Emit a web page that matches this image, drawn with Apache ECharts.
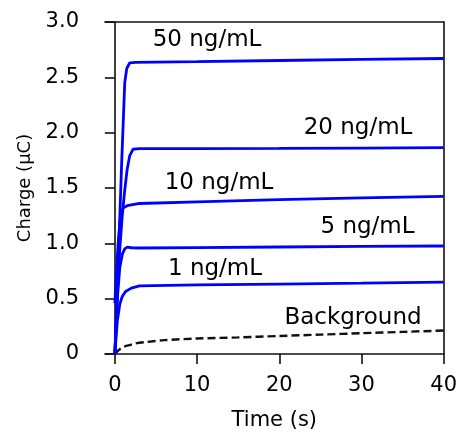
<!DOCTYPE html>
<html>
<head>
<meta charset="utf-8">
<script src="https://cdn.jsdelivr.net/npm/echarts@6/dist/echarts.min.js"></script>
<style>
html,body{margin:0;padding:0;background:#fff;}
#chart{width:460px;height:436px;}
</style>
</head>
<body>
<div id="chart"></div>
<script>
// ---- data (time s, charge µC) ----
var seriesNames = ['50 ng/mL', '20 ng/mL', '10 ng/mL', '5 ng/mL', '1 ng/mL', 'Background'];
var charge50 = [[0,0],[0.4,0.8],[0.8,1.67],[1.2,2.45],[1.45,2.58],[1.8,2.63],[2.5,2.635],[10,2.642],[20,2.652],[30,2.662],[40,2.67]];
var charge20 = [[0,0],[0.3,0.55],[0.6,0.95],[0.9,1.25],[1.2,1.48],[1.5,1.67],[1.8,1.79],[2.2,1.85],[3,1.855],[10,1.856],[20,1.858],[30,1.861],[40,1.865]];
var charge10 = [[0,0.46],[0.2,0.75],[0.4,1.0],[0.6,1.18],[0.8,1.28],[1.0,1.32],[1.5,1.34],[3,1.36],[10,1.375],[20,1.395],[30,1.41],[40,1.425]];
var charge5 = [[0,0],[0.3,0.5],[0.6,0.78],[0.9,0.9],[1.2,0.95],[1.5,0.965],[2,0.96],[3,0.958],[10,0.962],[20,0.967],[30,0.972],[40,0.976]];
var charge1 = [[0,0],[0.3,0.3],[0.6,0.45],[0.9,0.52],[1.3,0.565],[2,0.595],[3,0.615],[10,0.625],[20,0.632],[30,0.64],[40,0.65]];
var chargeBg = [[0,0],[0.4,0.03],[0.8,0.055],[1.5,0.075],[2.5,0.095],[4,0.11],[6,0.125],[10,0.14],[15,0.15],[20,0.163],[25,0.175],[30,0.188],[35,0.2],[40,0.212]];
var xTicks = [0, 10, 20, 30, 40];
var yTicks = [0, 0.5, 1.0, 1.5, 2.0, 2.5, 3.0];

var FONT = 'DejaVu Sans';
var BLUE = '#0000ff';
var AXC = '#111';

var chart = echarts.init(document.getElementById('chart'), null, {renderer: 'canvas'});

function blue(name, data) {
  return {
    name: name, type: 'line', data: data, showSymbol: false, symbol: 'none',
    lineStyle: {color: BLUE, width: 2.8}, silent: true, animation: false, z: 3
  };
}

var labelStyle = {fontFamily: FONT, fontSize: 23, fill: '#000'};
function lbl(text, x, y) {
  return {type: 'text', x: x, y: y, style: Object.assign({text: text, align: 'center', verticalAlign: 'middle'}, labelStyle), z: 10};
}

chart.setOption({
  animation: false,
  backgroundColor: '#fff',
  grid: {left: 105, right: 14, top: 22, bottom: 79, containLabel: false},
  xAxis: [{
    type: 'value', min: -1.2, max: 40, position: 'bottom',
    name: 'Time (s)', nameLocation: 'middle', nameGap: 56,
    nameTextStyle: {fontFamily: FONT, fontSize: 21, color: '#000'},
    axisLine: {show: true, onZero: false, lineStyle: {color: AXC, width: 1.6}},
    axisTick: {show: true, customValues: xTicks, length: 10, inside: false, lineStyle: {color: AXC, width: 1.6}},
    axisLabel: {customValues: xTicks, fontFamily: FONT, fontSize: 21, color: '#000', margin: 21},
    splitLine: {show: false}
  }, {
    type: 'value', min: -1.2, max: 40, position: 'top',
    axisLine: {show: true, onZero: false, lineStyle: {color: AXC, width: 1.6}},
    axisTick: {show: false}, axisLabel: {show: false}, splitLine: {show: false}
  }],
  yAxis: [{
    type: 'value', min: 0, max: 3, interval: 0.5, position: 'left',
    name: 'Charge (μC)', nameLocation: 'middle', nameGap: 66, nameRotate: 90,
    nameTextStyle: {fontFamily: FONT, fontSize: 18, color: '#000'},
    axisLine: {show: true, onZero: true, lineStyle: {color: AXC, width: 1.6}},
    axisTick: {show: true, length: 10, inside: false, lineStyle: {color: AXC, width: 1.6}},
    axisLabel: {fontFamily: FONT, fontSize: 21, color: '#000', margin: 26,
      formatter: function (v) { return v === 0 ? '0' : v.toFixed(1); }},
    splitLine: {show: false}
  }, {
    type: 'value', min: 0, max: 3, position: 'right',
    axisLine: {show: true, onZero: false, lineStyle: {color: AXC, width: 1.6}},
    axisTick: {show: false}, axisLabel: {show: false}, splitLine: {show: false}
  }],
  series: [
    blue(seriesNames[0], charge50),
    blue(seriesNames[1], charge20),
    blue(seriesNames[2], charge10),
    blue(seriesNames[3], charge5),
    blue(seriesNames[4], charge1),
    {
      name: seriesNames[5], type: 'line', data: chargeBg, showSymbol: false, symbol: 'none', smooth: 0.3,
      lineStyle: {color: '#111', width: 2.4, type: [8, 4]}, silent: true, z: 2
    }
  ],
  graphic: [
    lbl(seriesNames[0], 207, 40),
    lbl(seriesNames[1], 358, 128),
    lbl(seriesNames[2], 219, 183.5),
    lbl(seriesNames[3], 367.5, 227.5),
    lbl(seriesNames[4], 215, 269.5),
    lbl(seriesNames[5], 353, 318.5)
  ]
});
</script>
</body>
</html>
